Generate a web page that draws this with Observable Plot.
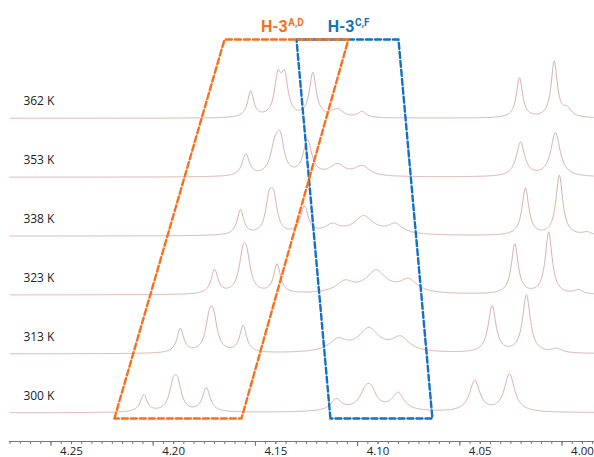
<!DOCTYPE html>
<html><head><meta charset="utf-8">
<script src="https://cdn.jsdelivr.net/npm/d3@7"></script>
<script src="https://cdn.jsdelivr.net/npm/@observablehq/plot@0.6"></script>
<style>body{margin:0;background:#fff}</style>
</head><body><div id="chart"></div>
<script>
// Temperatures, top to bottom
const temps = ["362 K", "353 K", "338 K", "323 K", "313 K", "300 K"];
// Peak lists: [chemical shift (ppm), amplitude (a.u.), FWHM (ppm)]
const peaks362 = [[4.1623,26,0.0036],[4.1490,37,0.0040],[4.1457,37,0.0040],[4.1319,44,0.0040],[4.1200,8,0.0070],[4.1078,6,0.0045],[4.0308,40,0.0036],[4.0138,56,0.0036],[4.0075,8,0.0050]];
const peaks353 = [[4.1647,22,0.0042],[4.1505,26,0.0050],[4.1478,32,0.0045],[4.1345,35,0.0050],[4.1200,11,0.0090],[4.1078,10,0.0090],[4.0303,34,0.0050],[4.0132,44,0.0055]];
const peaks338 = [[4.1673,25,0.0038],[4.1533,31,0.0040],[4.1510,31,0.0040],[4.1360,27,0.0045],[4.1225,8,0.0085],[4.1070,14,0.0100],[4.0915,9,0.0085],[4.1070,5,0.0300],[4.0279,47,0.0040],[4.0113,60,0.0040],[3.9977,3,0.0050]];
const peaks323 = [[4.1800,24,0.0040],[4.1662,30,0.0045],[4.1643,30,0.0045],[4.1494,29,0.0040],[4.1163,10,0.0100],[4.1009,18,0.0110],[4.0850,12,0.0100],[4.1010,5,0.0300],[4.0331,50,0.0040],[4.0165,62,0.0040],[4.0020,4,0.0050]];
const peaks313 = [[4.1967,24,0.0040],[4.1825,28,0.0045],[4.1805,28,0.0045],[4.1660,27,0.0040],[4.1197,11,0.0100],[4.1045,19,0.0110],[4.0890,13,0.0100],[4.1045,5,0.0300],[4.0442,47,0.0045],[4.0274,58,0.0045],[4.0124,4,0.0060]];
const peaks300 = [[4.2146,17,0.0040],[4.2002,23,0.0045],[4.1980,23,0.0045],[4.1840,24,0.0045],[4.1205,11,0.0060],[4.1062,14,0.0060],[4.1034,15,0.0060],[4.0902,17,0.0070],[4.1050,4,0.0300],[4.0527,31,0.0060],[4.0357,38,0.0060]];
// Tick labels
const tickLabels = [4.25, 4.20, 4.15, 4.10, 4.05, 4.00];
// Annotation regions (ppm at bottom-left, top-left, top-right, bottom-right)
const regionAD = [4.2290, 4.1751, 4.1145, 4.1668];
const regionCF = [4.1233, 4.1399, 4.0900, 4.0734];

const spectra = [peaks362, peaks353, peaks338, peaks323, peaks313, peaks300];
const orange = "#f7701e", blue = "#1570c2";
const base0 = 28.7, gap = 58.9;
const offset = i => base0 + (5 - i) * gap;
const yBottom = 23, yTop = 402;

const grid = d3.range(0, 716).map(k => 3.9941 + k * 0.0004);
const lor = (p, x) => p[1] / (1 + ((x - p[0]) / (p[2] / 2)) ** 2);
const lines = [];
spectra.forEach((pk, i) => {
  grid.forEach(x => lines.push({t: temps[i], x, y: offset(i) + d3.sum(pk, p => lor(p, x))}));
});
const box = (r) => [0,1,2,3,0].map(j => ({x: r[j], y: (j === 1 || j === 2) ? yTop : yBottom}));
const lbl = "Roboto, 'Open Sans', sans-serif";

const plot = Plot.plot({
  width: 594, height: 457,
  marginLeft: 9, marginRight: 0, marginTop: 0, marginBottom: 16,
  style: {fontFamily: "'Open Sans', sans-serif", background: "#fff"},
  x: {domain: [4.2803, 3.9941]},
  y: {domain: [0, 441], axis: null},
  marks: [
    Plot.line(lines, {x: "x", y: "y", z: "t", stroke: "#dab2b2", strokeWidth: 1}),
    Plot.line(box(regionCF), {x: "x", y: "y", stroke: blue, strokeWidth: 2.4, strokeDasharray: "6,3"}),
    Plot.line(box(regionAD), {x: "x", y: "y", stroke: orange, strokeWidth: 2.4, strokeDasharray: "6,3"}),
    Plot.text(temps, {x: () => 4.2735, y: (d, i) => offset(i) + 17, text: d => d, textAnchor: "start", fontSize: 12, fill: "#222"}),
    Plot.text(["H-3"], {x: () => 4.1442, y: () => 415, text: d => d, textAnchor: "end", fontSize: 16, fontWeight: "bold", fontFamily: lbl, fill: orange}),
    Plot.text(["A,D"], {x: () => 4.1442, y: () => 419, text: d => d, textAnchor: "start", dx: 0.5, fontSize: 10, fontWeight: "bold", fontFamily: lbl, fill: orange}),
    Plot.text(["H-3"], {x: () => 4.1115, y: () => 415, text: d => d, textAnchor: "end", fontSize: 16, fontWeight: "bold", fontFamily: lbl, fill: blue}),
    Plot.text(["C,F"], {x: () => 4.1115, y: () => 419, text: d => d, textAnchor: "start", dx: 0.5, fontSize: 10, fontWeight: "bold", fontFamily: lbl, fill: blue}),
    Plot.ruleY([0], {stroke: "#777"}),
    Plot.axisX({ticks: d3.range(799, 857).map(k => k * 0.005), tickSize: 3, tickFormat: () => "", stroke: "#777", label: null}),
    Plot.axisX({ticks: [4.26, 4.21, 4.16, 4.11, 4.06, 4.01], tickSize: 5, tickFormat: () => "", stroke: "#777", label: null}),
    Plot.axisX({ticks: tickLabels, tickSize: 3, tickPadding: 2, tickFormat: d3.format(".2f"), stroke: "#777", fill: "#222", fontSize: 11.5, label: null})
  ]
});
document.getElementById("chart").append(plot);
</script></body></html>
